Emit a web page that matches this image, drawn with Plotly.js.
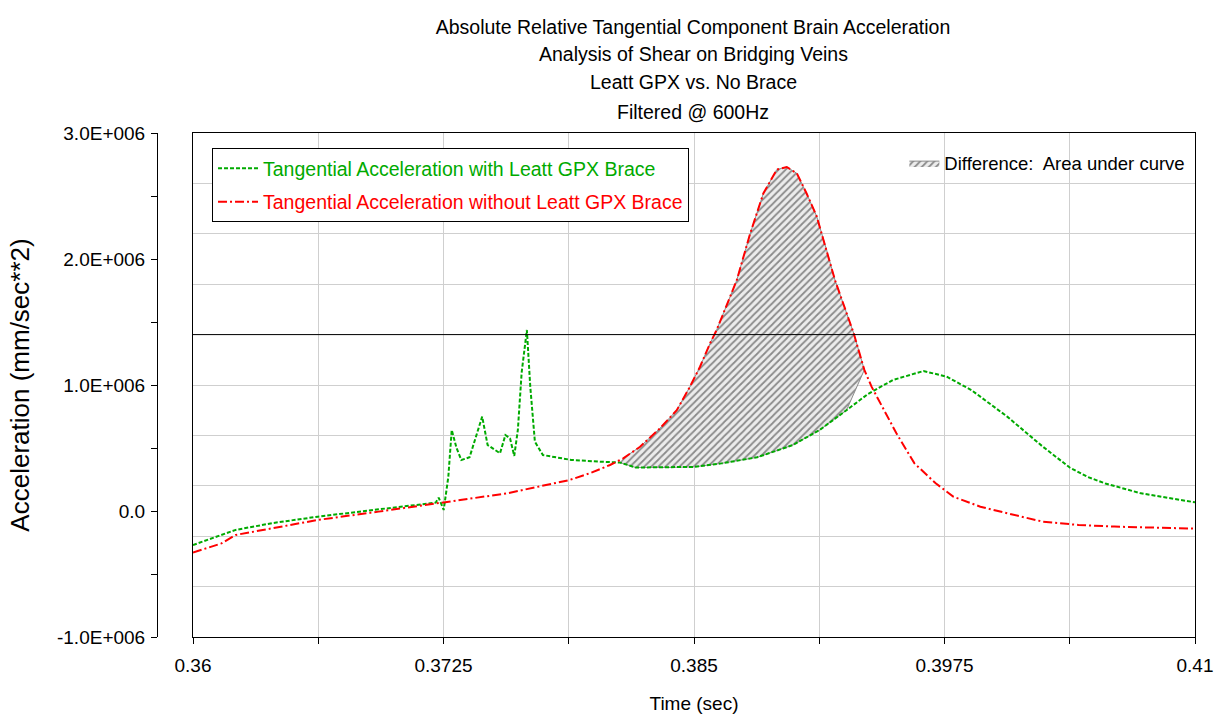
<!DOCTYPE html>
<html>
<head>
<meta charset="utf-8">
<script src="https://cdn.plot.ly/plotly-3.0.1.min.js"></script>
<style>html,body{margin:0;padding:0;background:#fff;}#chart{width:1222px;height:716px;}</style>
</head>
<body>
<div id="chart"></div>
<script>
// ---- data (time in sec, acceleration in mm/sec^2) ----
const timeWithBrace = [0.36, 0.36213, 0.364, 0.36623, 0.36926, 0.37211, 0.37226, 0.37251, 0.37274, 0.37291, 0.37315, 0.37339, 0.3738, 0.37411, 0.37443, 0.3747, 0.37497, 0.37532, 0.37559, 0.37582, 0.37603, 0.37621, 0.3764, 0.37666, 0.37683, 0.37706, 0.37746, 0.37888, 0.38049, 0.3813, 0.38209, 0.3835, 0.38503, 0.38637, 0.38815, 0.38994, 0.39127, 0.39261, 0.39368, 0.39493, 0.39645, 0.39761, 0.39884, 0.40063, 0.40241, 0.40375, 0.40465, 0.40553, 0.40731, 0.41];
const accelWithBrace = [-270000, -150000, -95000, -45000, 13000, 66000, 106000, 8000, 270000, 643000, 500000, 405000, 426000, 590000, 749000, 524000, 497000, 458000, 603000, 577000, 437000, 643000, 1100000, 1437000, 987000, 550000, 444000, 405000, 390000, 385000, 345000, 345000, 350000, 378000, 426000, 524000, 643000, 800000, 929000, 1040000, 1111000, 1066000, 960000, 749000, 510000, 345000, 270000, 218000, 140000, 69000];

const timeWithoutBrace = [0.36, 0.36142, 0.36213, 0.3642, 0.36623, 0.36926, 0.37254, 0.37567, 0.37879, 0.37981, 0.38081, 0.38147, 0.38231, 0.3833, 0.38414, 0.3848, 0.3853, 0.3858, 0.38613, 0.38713, 0.3878, 0.38846, 0.38913, 0.38963, 0.39013, 0.39062, 0.39112, 0.39162, 0.39204, 0.39297, 0.3935, 0.39386, 0.3951, 0.396, 0.39706, 0.39795, 0.39929, 0.40063, 0.40241, 0.40419, 0.40597, 0.41];
const accelWithoutBrace = [-330000, -257000, -190000, -130000, -71000, -5000, 69000, 140000, 246000, 300000, 365000, 418000, 510000, 656000, 800000, 987000, 1145000, 1330000, 1437000, 1830000, 2200000, 2520000, 2710000, 2730000, 2680000, 2520000, 2340000, 2070000, 1830000, 1410000, 1120000, 987000, 617000, 378000, 220000, 113000, 34000, -18000, -85000, -111000, -124000, -140000];

const differenceWindow = [0.3812, 0.3936];      // crossing times bounding the shaded area
const thresholdLevel = [1400000];                 // horizontal reference line
const xRange = [0.36, 0.41];
const yRange = [-1000000, 3000000];
const xTickVals = [0.36, 0.36625, 0.3725, 0.37875, 0.385, 0.39125, 0.3975, 0.40375, 0.41];
const xTickText = ['0.36', '', '0.3725', '', '0.385', '', '0.3975', '', '0.41'];
const yTickVals = [-1000000, -500000, 0, 500000, 1000000, 1500000, 2000000, 2500000, 3000000];
const yTickText = ['-1.0E+006', '', '0.0', '', '1.0E+006', '', '2.0E+006', '', '3.0E+006'];

const titleLines = ['Absolute Relative Tangential Component Brain Acceleration', 'Analysis of Shear on Bridging Veins', 'Leatt GPX vs. No Brace', 'Filtered @ 600Hz'];
const seriesNames = ['Tangential Acceleration with Leatt GPX Brace', 'Tangential Acceleration without Leatt GPX Brace'];
const differenceName = 'Difference:  Area under curve';

// ---- build difference polygon (upper: without brace, lower: with brace) ----
const polyX = [], polyY = [];
timeWithoutBrace.forEach((t, i) => { if (t >= differenceWindow[0] && t <= differenceWindow[1]) { polyX.push(t); polyY.push(accelWithoutBrace[i]); } });
for (let i = timeWithBrace.length - 1; i >= 0; i--) { const t = timeWithBrace[i]; if (t >= differenceWindow[0] && t <= differenceWindow[1]) { polyX.push(t); polyY.push(accelWithBrace[i]); } }

const FONT = '"Liberation Sans", Arial, sans-serif';
const GREEN = '#00aa00', RED = '#ff0000';

const traces = [
  { x: polyX, y: polyY, type: 'scatter', mode: 'lines', fill: 'toself', name: differenceName, legend: 'legend2',
    line: { color: '#8c8c8c', width: 1 }, fillcolor: '#e6e6e6',
    fillpattern: { shape: '/', bgcolor: '#ececec', fgcolor: '#8a8a8a', size: 5, solidity: 0.35 } },
  { x: xRange, y: [thresholdLevel[0], thresholdLevel[0]], type: 'scatter', mode: 'lines', yaxis: 'y2', showlegend: false,
    line: { color: '#000000', width: 1 }, hoverinfo: 'skip' },
  { x: timeWithBrace, y: accelWithBrace, type: 'scatter', mode: 'lines', legendgroup: 'g1',
    name: '<span style="color:' + GREEN + '">' + seriesNames[0] + '</span>',
    line: { color: GREEN, width: 2, dash: '4px,2px' } },
  { x: timeWithoutBrace, y: accelWithoutBrace, type: 'scatter', mode: 'lines', legendgroup: 'g2',
    name: '<span style="color:' + RED + '">' + seriesNames[1] + '</span>',
    line: { color: RED, width: 2, dash: '9px,3px,2px,3px' } }
];

// title lines placed individually to match the original line spacing
const titleY = [27, 54, 82, 112];
const titleAnnotations = titleLines.slice(1).map((s, i) => ({
  text: s, xref: 'paper', yref: 'paper', x: (693 - 157) / 1038, y: 1 + (133 - titleY[i + 1]) / 504, xanchor: 'center', yanchor: 'middle',
  showarrow: false, font: { family: FONT, size: 19.5, color: '#000' }
}));

const layout = {
  width: 1222, height: 716,
  paper_bgcolor: '#ffffff', plot_bgcolor: '#ffffff',
  margin: { l: 157, r: 27, t: 133, b: 79, pad: 0 },
  font: { family: FONT, color: '#000000', size: 19 },
  title: { text: titleLines[0], font: { family: FONT, size: 19.5, color: '#000' },
           x: 693 / 1222, xanchor: 'center', y: 1 - 27 / 716, yanchor: 'middle', yref: 'container' },
  annotations: titleAnnotations,
  showlegend: true,
  legend: { x: 0.053, y: 0.97, xanchor: 'left', yanchor: 'top', bgcolor: '#ffffff', bordercolor: '#000000', borderwidth: 1,
            font: { family: FONT, size: 19.5 }, traceorder: 'grouped', itemwidth: 40, tracegroupgap: 5 },
  legend2: { x: 0.72, y: 0.977, xanchor: 'left', yanchor: 'top', bgcolor: 'rgba(0,0,0,0)', borderwidth: 0,
             font: { family: FONT, size: 18.5, color: '#000' } },
  xaxis: {
    domain: [36 / 1038, 1], range: xRange, tickmode: 'array', tickvals: xTickVals, ticktext: xTickText,
    showgrid: true, gridcolor: '#cfcfcf', gridwidth: 1, zeroline: false,
    showline: true, linecolor: '#000000', linewidth: 1, mirror: true,
    ticks: 'outside', ticklen: 6, tickcolor: '#000', tickfont: { family: FONT, size: 19 }, ticklabelstandoff: 5,
    title: { text: 'Time (sec)', font: { family: FONT, size: 19 }, standoff: 21 }
  },
  yaxis: {
    anchor: 'free', position: 0, range: yRange, tickmode: 'array', tickvals: yTickVals, ticktext: yTickText,
    showgrid: false, zeroline: false, showline: true, linecolor: '#000', linewidth: 1,
    ticks: 'outside', ticklen: 6, tickcolor: '#000', tickfont: { family: FONT, size: 19 }, ticklabelstandoff: 2,
    title: { text: 'Acceleration (mm/sec**2)', font: { family: FONT, size: 26 }, standoff: 18 }
  },
  yaxis2: {
    overlaying: 'y', anchor: 'x', side: 'left', range: yRange, tickmode: 'linear', tick0: -1000000, dtick: 400000,
    showgrid: true, gridcolor: '#cfcfcf', gridwidth: 1, zeroline: false, showticklabels: false, ticks: '',
    showline: true, linecolor: '#000', linewidth: 1, mirror: true
  }
};

Plotly.newPlot('chart', traces, layout, { displayModeBar: false, staticPlot: true });
</script>
</body>
</html>
